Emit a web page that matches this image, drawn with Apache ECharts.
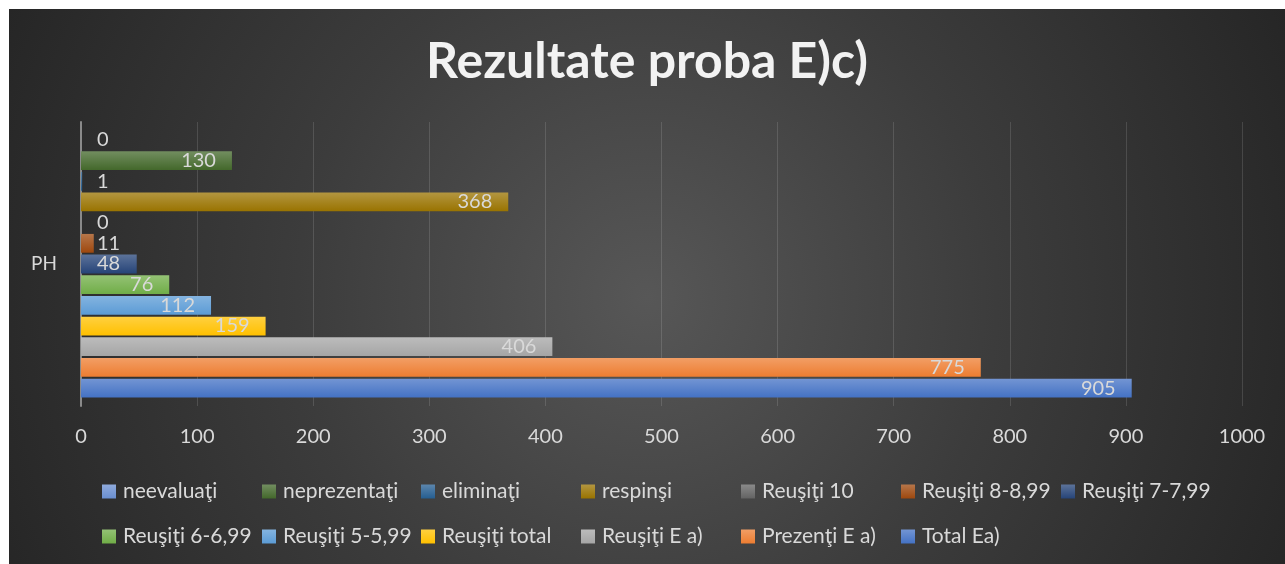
<!DOCTYPE html>
<html>
<head>
<meta charset="utf-8">
<script src="https://cdn.jsdelivr.net/npm/echarts@6/dist/echarts.min.js"></script>
<style>
    html, body { margin: 0; padding: 0; background: #ffffff; }
    #chart {
        position: absolute;
        left: 9px;
        top: 9px;
        width: 1276px;
        height: 555px;
        background: radial-gradient(circle 700px at 50% 52%, #575757 0%, #3c3c3c 50%, #262626 100%);
    }
</style>
</head>
<body>
<div id="chart"></div>
<script>
// Date
const categories = ['PH'];
const seriesNames = [
    'neevaluaţi', 'neprezentaţi', 'eliminaţi', 'respinşi', 'Reuşiţi 10',
    'Reuşiţi 8-8,99', 'Reuşiţi 7-7,99', 'Reuşiţi 6-6,99', 'Reuşiţi 5-5,99',
    'Reuşiţi total', 'Reuşiţi E a)', 'Prezenţi E a)', 'Total Ea)'
];
const seriesValues = [0, 130, 1, 368, 0, 11, 48, 76, 112, 159, 406, 775, 905];
const seriesColors = [
    '#698ED0', '#43682B', '#255E91', '#997300', '#636363',
    '#9E480E', '#264478', '#70AD47', '#5B9BD5',
    '#FFC000', '#A5A5A5', '#ED7D31', '#4472C4'
];
const xTicks = [0, 100, 200, 300, 400, 500, 600, 700, 800, 900, 1000];

// pozitiile legendei (coloane ca in Excel)
const legendCols = [93, 253, 412, 572, 732, 892, 1052];
const legendRows = [472, 517];

function lighten(hex, amt) {
    const n = parseInt(hex.slice(1), 16);
    let r = (n >> 16) & 255, g = (n >> 8) & 255, b = n & 255;
    r = Math.round(r + (255 - r) * amt);
    g = Math.round(g + (255 - g) * amt);
    b = Math.round(b + (255 - b) * amt);
    return 'rgb(' + r + ',' + g + ',' + b + ')';
}

function barGradient(hex) {
    return new echarts.graphic.LinearGradient(0, 0, 0, 1, [
        { offset: 0, color: lighten(hex, 0.25) },
        { offset: 1, color: hex }
    ]);
}

const fontFamily = 'Lato, "Open Sans", sans-serif';
const labelColor = '#d9d9d9';

const series = seriesNames.map((name, i) => {
    const v = seriesValues[i];
    const label = v < 50
        ? { show: true, position: [16, '50%'], align: 'left', verticalAlign: 'middle' }
        : { show: true, position: 'insideRight', distance: 16 };
    return {
        name: name,
        type: 'bar',
        data: [{ value: v, label: label }],
        barGap: '10%',
        barCategoryGap: '6%',
        itemStyle: { color: barGradient(seriesColors[i]) },
        label: {
            color: labelColor,
            fontSize: 20,
            fontFamily: fontFamily
        },
        emphasis: { disabled: true }
    };
});

const legends = seriesNames.map((name, i) => ({
    data: [{ name: name, icon: 'rect', itemStyle: { color: barGradient(seriesColors[i]) } }],
    orient: 'horizontal',
    left: legendCols[i % 7],
    top: legendRows[Math.floor(i / 7)],
    padding: 0,
    itemWidth: 14,
    itemHeight: 14,
    itemGap: 0,
    selectedMode: false,
    textStyle: { color: labelColor, fontSize: 21, fontFamily: fontFamily, padding: [0, 0, 0, 2] }
}));

const chart = echarts.init(document.getElementById('chart'));
chart.setOption({
    backgroundColor: 'transparent',
    animation: false,
    title: {
        text: 'Rezultate proba E)c)',
        left: 'center',
        top: 28,
        padding: 0,
        textStyle: {
            color: '#f2f2f2',
            fontSize: 50,
            fontWeight: 'bold',
            fontFamily: fontFamily
        }
    },
    legend: legends,
    grid: {
        left: 72,
        right: 43,
        top: 113,
        bottom: 158,
        containLabel: false
    },
    xAxis: {
        type: 'value',
        min: xTicks[0],
        max: xTicks[xTicks.length - 1],
        interval: 100,
        axisLine: { show: false },
        axisTick: { show: false },
        axisLabel: {
            color: labelColor,
            fontSize: 20,
            fontFamily: fontFamily,
            margin: 21,
            formatter: v => String(v)
        },
        splitLine: { lineStyle: { color: 'rgba(255,255,255,0.13)', width: 1 } }
    },
    yAxis: {
        type: 'category',
        data: categories,
        axisLine: { show: true, lineStyle: { color: '#8a8a8a', width: 2 } },
        axisTick: { show: false },
        axisLabel: {
            color: labelColor,
            fontSize: 19,
            fontFamily: fontFamily,
            margin: 24
        }
    },
    series: series
});
</script>
</body>
</html>
